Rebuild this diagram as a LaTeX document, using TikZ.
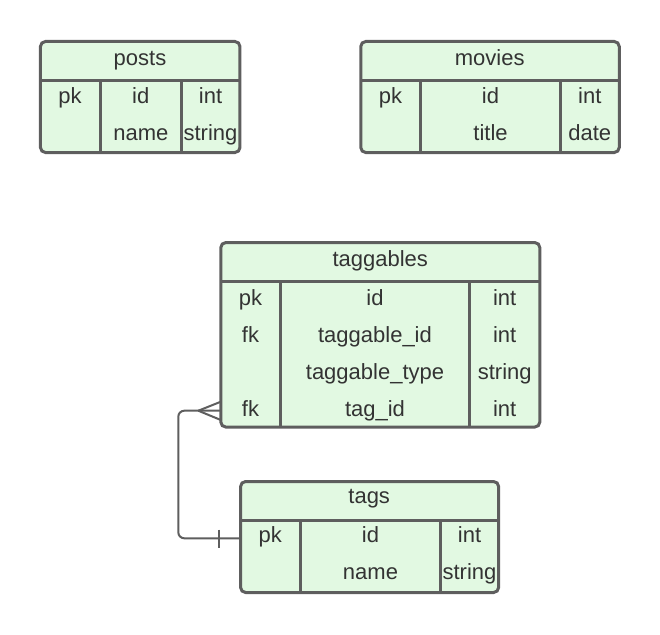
\documentclass[tikz,border=0pt]{standalone}
\usepackage{fontspec}
\setmainfont{Liberation Sans}
\definecolor{strokec}{HTML}{5E5E5E}
\definecolor{fillc}{HTML}{E2F9E2}
\definecolor{txtc}{HTML}{333333}
\newcommand{\erdfs}{\fontsize{22pt}{24pt}\selectfont}
\begin{document}
\begin{tikzpicture}[x=1pt,y=-1pt,
  tbl/.style={draw=strokec, fill=fillc, line width=3pt, rounded corners=5pt, inner sep=0pt, outer sep=0pt},
  div/.style={draw=strokec, line width=3pt},
  txt/.style={text=txtc, anchor=base, inner sep=0pt, font=\erdfs},
  conn/.style={draw=strokec, line width=2pt}]
\useasboundingbox (0,0) rectangle (660,634);

% ---------- posts ----------
\node[tbl, minimum width=199.5pt, minimum height=111pt] (posts) at (140.2,97) {};
\draw[div] (posts.west |- 0,80.7) -- (posts.east |- 0,80.7);
\draw[div] (100,80.7) -- (100,0 |- posts.south);
\draw[div] (181.5,80.7) -- (181.5,0 |- posts.south);
\node[txt] (posts-t) at (140,65) {posts};
\node[txt] (posts-k1) at (70,103.3) {pk};
\node[txt] (posts-n1) at (140.8,103.3) {id};
\node[txt] (posts-y1) at (210.5,103.3) {int};
\node[txt] (posts-n2) at (140.8,140.3) {name};
\node[txt] (posts-y2) at (210.5,140.3) {string};

% ---------- movies ----------
\node[tbl, minimum width=258.5pt, minimum height=111pt] (movies) at (490,97) {};
\draw[div] (movies.west |- 0,80.7) -- (movies.east |- 0,80.7);
\draw[div] (420.5,80.7) -- (420.5,0 |- movies.south);
\draw[div] (560.7,80.7) -- (560.7,0 |- movies.south);
\node[txt] (movies-t) at (489.7,65) {movies};
\node[txt] (movies-k1) at (390.5,103.3) {pk};
\node[txt] (movies-n1) at (490.5,103.3) {id};
\node[txt] (movies-y1) at (589.8,103.3) {int};
\node[txt] (movies-n2) at (490.5,140.3) {title};
\node[txt] (movies-y2) at (589.8,140.3) {date};

% ---------- taggables ----------
\node[tbl, minimum width=319pt, minimum height=184.5pt] (tg) at (380.3,334.8) {};
\draw[div] (tg.west |- 0,281) -- (tg.east |- 0,281);
\draw[div] (280.7,281) -- (280.7,0 |- tg.south);
\draw[div] (469.3,281) -- (469.3,0 |- tg.south);
\node[txt] (tg-t) at (380.2,266.7) {taggables};
\node[txt] (tg-k1) at (250.5,305) {pk};
\node[txt] (tg-n1) at (375,305) {id};
\node[txt] (tg-y1) at (504.7,305) {int};
\node[txt] (tg-k2) at (250.5,342) {fk};
\node[txt] (tg-n2) at (375,342) {taggable\_id};
\node[txt] (tg-y2) at (504.7,342) {int};
\node[txt] (tg-n3) at (375,379) {taggable\_type};
\node[txt] (tg-y3) at (504.7,379) {string};
\node[txt] (tg-k4) at (250.5,416.5) {fk};
\node[txt] (tg-n4) at (375,416.5) {tag\_id};
\node[txt] (tg-y4) at (504.7,416.5) {int};

% ---------- tags ----------
\node[tbl, minimum width=258pt, minimum height=111pt] (tags) at (369.6,537) {};
\draw[div] (tags.west |- 0,520.7) -- (tags.east |- 0,520.7);
\draw[div] (300.3,520.7) -- (300.3,0 |- tags.south);
\draw[div] (440.7,520.7) -- (440.7,0 |- tags.south);
\node[txt] (tags-t) at (369.2,503.3) {tags};
\node[txt] (tags-k1) at (270.3,542.8) {pk};
\node[txt] (tags-n1) at (370.5,542.8) {id};
\node[txt] (tags-y1) at (469.5,542.8) {int};
\node[txt] (tags-n2) at (370.5,579.8) {name};
\node[txt] (tags-y2) at (469.5,579.8) {string};

% ---------- connector ----------
\coordinate (tgend) at (tg.west |- 0,410.7);
\coordinate (tagsend) at (tags.west |- 0,538.3);
\draw[conn, rounded corners=6pt] (tgend) -- (178.3,410.7) -- (178.3,538.3) -- (tagsend);
% crow's foot (many) at taggables
\draw[conn] (198.3,410.7) -- (tgend |- 0,401.7);
\draw[conn] (198.3,410.7) -- (tgend |- 0,420);
% bar (one) at tags
\draw[conn] (219.3,529.5) -- (219.3,548);
\end{tikzpicture}
\end{document}
